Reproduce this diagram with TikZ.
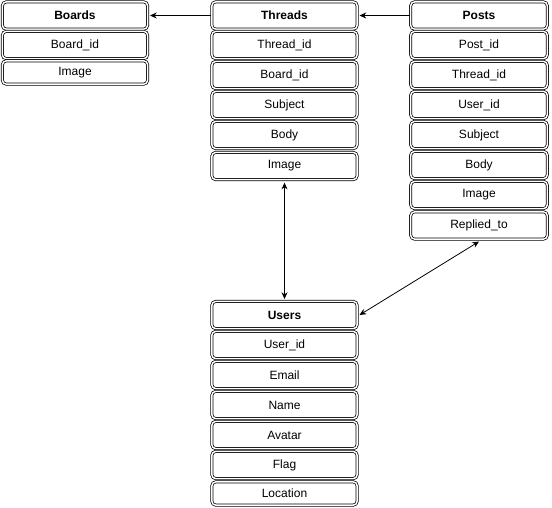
\documentclass[tikz,border=0pt]{standalone}
\usepackage{fontspec}
\setmainfont{Liberation Sans}
\usetikzlibrary{arrows.meta}
\begin{document}
\begin{tikzpicture}[x=0.75pt,y=-0.75pt,
  cell/.style={draw=black, double=white, double distance=1.1pt, line width=0.55pt,
    rounded corners=3pt, inner sep=0pt, font=\fontsize{9}{11}\selectfont,
    minimum height=20.5pt},
  wa/.style={minimum width=109pt},
  wp/.style={minimum width=102.5pt},
  hd/.style={font=\fontsize{9}{11}\selectfont\bfseries},
  conn/.style={draw=black, line width=0.6pt, -{Stealth[length=5pt,width=4.5pt]}},
  conn2/.style={draw=black, line width=0.6pt, {Stealth[length=5pt,width=4.5pt]}-{Stealth[length=5pt,width=4.5pt]}}]
\useasboundingbox (0,0) rectangle (552,507);
% Boards
\node[cell,wa,hd] (boards) at (75,15.5) {Boards};
\node[cell,wa] (bboardid) at (75,45) {Board\_id};
\node[cell,wa,minimum height=17.5pt] (bimage) at (75,72.5) {Image};
% Threads
\node[cell,wa,hd] (threads) at (284.5,15.5) {Threads};
\node[cell,wa] (tthreadid) at (284.5,45) {Thread\_id};
\node[cell,wa] (tboardid) at (284.5,75) {Board\_id};
\node[cell,wa] (tsubject) at (284.5,105) {Subject};
\node[cell,wa] (tbody) at (284.5,135) {Body};
\node[cell,wa] (timage) at (284.5,166) {Image};
% Posts
\node[cell,wp,hd] (posts) at (479,15.5) {Posts};
\node[cell,wp] (ppostid) at (479,45) {Post\_id};
\node[cell,wp] (pthreadid) at (479,75) {Thread\_id};
\node[cell,wp] (puserid) at (479,105) {User\_id};
\node[cell,wp] (psubject) at (479,135) {Subject};
\node[cell,wp] (pbody) at (479,165) {Body};
\node[cell,wp] (pimage) at (479,195) {Image};
\node[cell,wp] (preplied) at (479,225.5) {Replied\_to};
% Users
\node[cell,wa,hd] (users) at (284.5,315) {Users};
\node[cell,wa] (uuserid) at (284.5,345) {User\_id};
\node[cell,wa] (uemail) at (284.5,375) {Email};
\node[cell,wa] (uname) at (284.5,405) {Name};
\node[cell,wa] (uavatar) at (284.5,435) {Avatar};
\node[cell,wa] (uflag) at (284.5,465) {Flag};
\node[cell,wa,minimum height=17.5pt] (ulocation) at (284.5,493.5) {Location};
% Connectors
\draw[conn] (threads.west) -- ([xshift=1.5pt]boards.east);
\draw[conn] (posts.west) -- ([xshift=1.5pt]threads.east);
\draw[conn2] ([yshift=-2pt]timage.south) -- ([yshift=1.5pt]users.north);
\draw[conn2] ([yshift=-1.5pt]preplied.south) -- ([xshift=1.5pt]users.east);
\end{tikzpicture}
\end{document}
